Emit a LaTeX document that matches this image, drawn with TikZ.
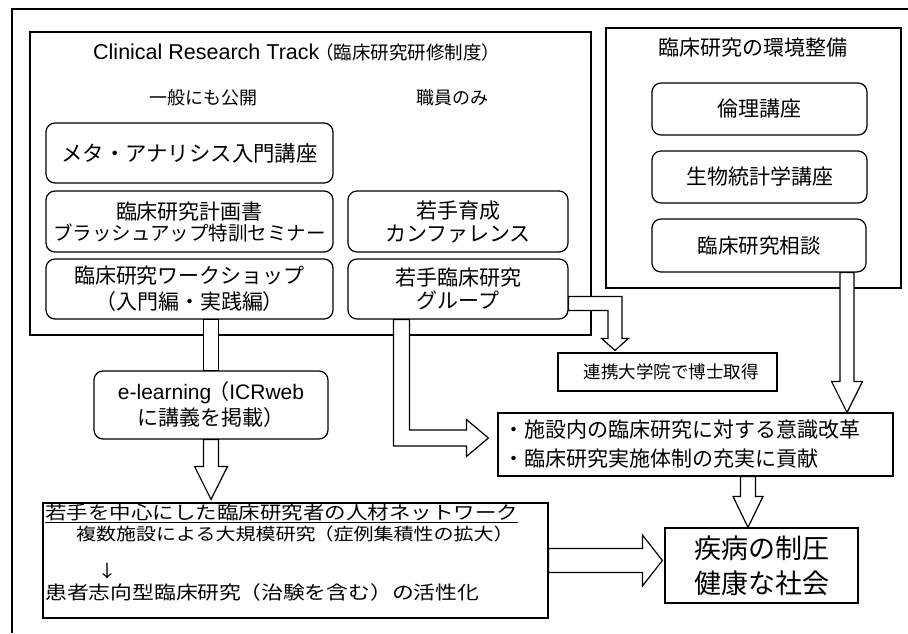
\documentclass[tikz,border=0pt]{standalone}
\usepackage{fontspec}
\usepackage{graphicx}
\setmainfont{Noto Sans CJK JP}
\newfontfamily\lat{Liberation Sans}
\usetikzlibrary{calc}
\newcommand\myfs[1]{\fontsize{#1}{#1}\selectfont}
\newcommand\myfsb[2]{\fontsize{#1}{#2}\selectfont}
% hollow arrows
\newcommand\pipeV[3]{\draw[hollow] let \p1=(#1), \p2=(#2) in (\x1-#3,\y1) rectangle (\x1+#3,\y2);}
\newcommand\arrV[5]{\draw[hollow] let \p1=(#1), \p2=(#2) in (\x1-#3,\y1) -- (\x1-#3,\y2+#5) -- (\x1-#4,\y2+#5) -- (\x1,\y2) -- (\x1+#4,\y2+#5) -- (\x1+#3,\y2+#5) -- (\x1+#3,\y1) -- cycle;}
\newcommand\arrH[5]{\draw[hollow] let \p1=(#1), \p2=(#2) in (\x1,\y1+#3) -- (\x2-#5,\y1+#3) -- (\x2-#5,\y1+#4) -- (\x2,\y1) -- (\x2-#5,\y1-#4) -- (\x2-#5,\y1-#3) -- (\x1,\y1-#3) -- cycle;}
\newcommand\arrDR[5]{\draw[hollow] let \p1=(#1), \p2=(#2) in (\x1-#3,\y1) -- (\x1-#3,\y2-#3) -- (\x2-#5,\y2-#3) -- (\x2-#5,\y2-#4) -- (\x2,\y2) -- (\x2-#5,\y2+#4) -- (\x2-#5,\y2+#3) -- (\x1+#3,\y2+#3) -- (\x1+#3,\y1) -- cycle;}
\newcommand\arrRD[5]{\draw[hollow] let \p1=(#1), \p2=(#2) in (\x1,\y1+#3) -- (\x2+#3,\y1+#3) -- (\x2+#3,\y2+#5) -- (\x2+#4,\y2+#5) -- (\x2,\y2) -- (\x2-#4,\y2+#5) -- (\x2-#3,\y2+#5) -- (\x2-#3,\y1-#3) -- (\x1,\y1-#3) -- cycle;}
\tikzset{
  rbox/.style={draw, rounded corners=9pt, line width=1.2pt, inner sep=0pt, align=center},
  sbox/.style={draw, line width=1.2pt, inner sep=0pt, align=center},
  hollow/.style={draw, fill=white, line width=1.2pt, line join=miter},
  lbl/.style={inner sep=0pt},
}
\begin{document}
\begin{tikzpicture}[x=1pt,y=-1pt]
\fill[white] (0,0) rectangle (908,633);
\useasboundingbox (0,0) rectangle (908,633);
% outer frame
\draw[line width=1.2pt] (12,633) -- (12,9) -- (908,9);
% big boxes
\node[sbox, minimum width=561pt, minimum height=303pt] (crt) at (310.5,183.5) {};
\node[sbox, minimum width=295pt, minimum height=260pt] (env) at (753.5,158) {};
% titles
\node[lbl, anchor=west] (crtT) at (93,52) {{\lat\myfs{21.5}Clinical Research Track}{\myfs{18.5}\hspace*{-4pt}（臨床研究研修制度）}};
\node[lbl, font=\myfs{18}] (pub) at (203,98) {一般にも公開};
\node[lbl, font=\myfs{18}] (staff) at (452,98) {職員のみ};
\node[lbl, font=\myfs{21}] (envT) at (753,48) {臨床研究の環境整備};
% left column
\node[rbox, minimum width=287pt, minimum height=60pt, font=\myfs{21.4}] (meta) at (189.5,153) {メタ・アナリシス入門講座};
\node[rbox, minimum width=287pt, minimum height=61pt, font=\myfsb{21}{21}] (kei) at (189.5,221.5) {臨床研究計画書\\{\myfs{19.5}ブラッシュアップ特訓セミナー}};
\node[rbox, minimum width=287pt, minimum height=60pt, font=\myfsb{21}{26}] (ws) at (189.5,289) {臨床研究ワークショップ\\（入門編・実践編）};
% middle column
\node[rbox, minimum width=220pt, minimum height=61pt, font=\myfsb{21}{23}] (wk) at (458,221.5) {若手育成\\カンファレンス};
\node[rbox, minimum width=220pt, minimum height=60pt, font=\myfsb{21}{23}] (wg) at (458,289) {若手臨床研究\\グループ};
% right column
\node[rbox, minimum width=215pt, minimum height=52pt, font=\myfs{21}] (rinri) at (759.5,109) {倫理講座};
\node[rbox, minimum width=215pt, minimum height=52pt, font=\myfs{21}] (tk) at (759.5,177) {生物統計学講座};
\node[rbox, minimum width=214pt, minimum height=53pt, font=\myfs{20.5}] (so) at (759,245.5) {臨床研究相談};
% lower part
\node[rbox, minimum width=234pt, minimum height=68pt, font=\myfsb{21}{26}] (el) at (211,405) {{\lat e-learning}\hspace*{-3pt}（{\lat ICRweb}\\に講義を掲載）};
\node[sbox, minimum width=219pt, minimum height=38pt, font=\myfs{17.5}] (rk) at (667.5,372) {\hspace*{7pt}連携大学院で博士取得};
\node[sbox, minimum width=395pt, minimum height=63pt, text width=385pt, align=left, font=\myfsb{21}{29}] (sh) at (695.5,444.5) {・施設内の臨床研究に対する意識改革\\・臨床研究実施体制の充実に貢献};
\node[sbox, minimum width=505pt, minimum height=115pt] (net) at (295.5,560.5) {};
\node[sbox, minimum width=193pt, minimum height=75pt, font=\myfsb{27}{35}] (dis) at (761.5,565.5) {疾病の制圧\\健康な社会};
% network text
\node[lbl, anchor=west] (n1) at (45,513) {\scalebox{1}[0.85]{\myfs{21.5}\underline{若手を中心にした臨床研究者の人材ネットワーク}}};
\node[lbl, anchor=west] (n2) at (76,534.5) {\scalebox{1}[0.85]{\myfs{20}複数施設による大規模研究\hspace*{-2pt}（症例集積性の拡大）}};
\node[lbl] (n3) at (107,571) {\scalebox{1}[0.85]{\myfs{20}↓}};
\node[lbl, anchor=west] (n4) at (45,592.5) {\scalebox{1}[0.85]{\myfs{21.8}患者志向型臨床研究\hspace*{-2pt}（治験を含む）の活性化}};
% hollow arrows
\pipeV{[xshift=21.5pt]ws.south}{el.north}{7.5pt}
\arrV{el.south}{[yshift=3pt]net.north}{7.5pt}{16.5pt}{33pt}
\arrDR{[xshift=-56.5pt]wg.south}{[xshift=-9pt,yshift=6.5pt]sh.west}{8pt}{18.5pt}{22pt}
\arrRD{[yshift=-14.5pt]wg.east}{[xshift=-52.5pt,yshift=2pt]rk.north}{7pt}{13.5pt}{12pt}
\arrV{[xshift=88pt]so.south}{sh.north}{7pt}{15.5pt}{31pt}
\arrV{[xshift=52.5pt]sh.south}{dis.north}{7.5pt}{15pt}{31pt}
\arrH{net.east}{[xshift=-2pt]dis.west}{12pt}{25.5pt}{20pt}
\end{tikzpicture}
\end{document}
